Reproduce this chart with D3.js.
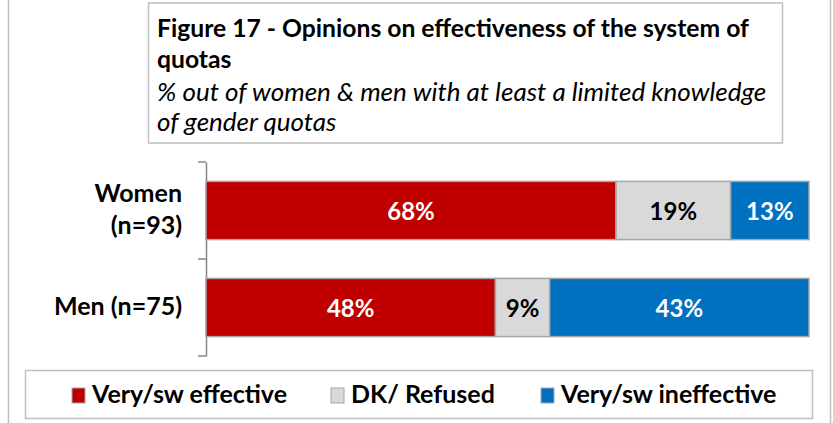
<!DOCTYPE html>
<html><head><meta charset="utf-8">
<script src="https://cdn.jsdelivr.net/npm/d3@7"></script>
<style>body{margin:0;background:#fff}svg{display:block}</style>
</head><body>
<svg id="c" width="833" height="423"></svg>
<script>
const categories = ["Women (n=93)", "Men (n=75)"];
const categoryLines = [["Women", "(n=93)"], ["Men (n=75)"]];
const seriesNames = ["Very/sw effective", "DK/ Refused", "Very/sw ineffective"];
const effective = [68, 48];
const dkRefused = [19, 9];
const ineffective = [13, 43];
const titleLines = ["Figure 17 - Opinions on effectiveness of the system of", "quotas"];
const subtitleLines = ["% out of women & men with at least a limited knowledge", "of gender quotas"];

const colors = ["#C00000", "#D9D9D9", "#0070C0"];
const labelColors = ["#fff", "#000", "#fff"];
const FONT = "Lato, 'Open Sans', sans-serif";

const svg = d3.select("#c");
// outer frame
svg.append("line").attr("x1", 8.5).attr("x2", 8.5).attr("y1", 0).attr("y2", 423).attr("stroke", "#bfbfbf").attr("stroke-width", 1.5);
svg.append("line").attr("x1", 830.5).attr("x2", 830.5).attr("y1", 0).attr("y2", 423).attr("stroke", "#bfbfbf").attr("stroke-width", 1.5);

// title box
svg.append("rect").attr("x", 148.5).attr("y", 3).attr("width", 634).attr("height", 140)
  .attr("fill", "#fff").attr("stroke", "#bfbfbf").attr("stroke-width", 1.5);
const tt = svg.append("g").attr("font-family", FONT).attr("fill", "#000");
titleLines.forEach((t, i) => tt.append("text").attr("x", 157).attr("y", 37 + i * 31)
  .attr("font-weight", "bold").attr("font-size", 24.7).text(t));
subtitleLines.forEach((t, i) => tt.append("text").attr("x", 157).attr("y", 101 + i * 30)
  .attr("font-style", "italic").attr("font-size", 26).text(t));

// data rows
const rows = categories.map((c, i) => ({ cat: c, lines: categoryLines[i], vals: [effective[i], dkRefused[i], ineffective[i]] }));
const x = d3.scaleLinear().domain([0, 100]).range([206, 809]);
const y = d3.scaleBand().domain(categories).range([162, 356]).paddingInner(0.4).paddingOuter(0.2);

// axis
const yAxis = d3.axisLeft(y).tickSize(0).tickFormat("");
const ag = svg.append("g").attr("transform", "translate(206,0)").call(yAxis);
ag.select(".domain").attr("stroke", "#868686").attr("stroke-width", 1.5);
// category boundary ticks
const bounds = [162, (y(categories[0]) + y.bandwidth() + y(categories[1])) / 2, 356];
svg.selectAll(".bt").data(bounds).enter().append("line")
  .attr("x1", 198).attr("x2", 206).attr("y1", d => d).attr("y2", d => d)
  .attr("stroke", "#868686").attr("stroke-width", 1.5);

rows.forEach(r => {
  let cum = 0;
  const g = svg.append("g");
  r.vals.forEach((v, j) => {
    const x0 = x(cum), x1 = x(cum + v);
    g.append("rect").attr("x", x0).attr("y", y(r.cat)).attr("width", x1 - x0).attr("height", y.bandwidth())
      .attr("fill", colors[j]).attr("stroke", "#a6a6a6").attr("stroke-width", 1.5);
    g.append("text").attr("x", (x0 + x1) / 2).attr("y", y(r.cat) + y.bandwidth() / 2 + 9)
      .attr("text-anchor", "middle").attr("font-family", FONT).attr("font-weight", "bold").attr("font-size", 24)
      .attr("fill", labelColors[j]).text(v + "%");
    cum += v;
  });
  const cy = y(r.cat) + y.bandwidth() / 2;
  const n = r.lines.length;
  r.lines.forEach((t, k) => {
    svg.append("text").attr("x", 182).attr("y", cy + 7 + (k - (n - 1) / 2) * 32)
      .attr("text-anchor", "end").attr("font-family", FONT).attr("font-weight", "bold").attr("font-size", 25)
      .text(t);
  });
});

// legend
svg.append("rect").attr("x", 25.5).attr("y", 370.5).attr("width", 787).attr("height", 48)
  .attr("fill", "#fff").attr("stroke", "#bfbfbf").attr("stroke-width", 1.5);
const legX = [72, 331, 541];
seriesNames.forEach((s, j) => {
  svg.append("rect").attr("x", legX[j]).attr("y", 388).attr("width", 13).attr("height", 15)
    .attr("fill", colors[j]).attr("stroke", "#a6a6a6");
  svg.append("text").attr("x", legX[j] + 20).attr("y", 403).attr("font-family", FONT)
    .attr("font-weight", "bold").attr("font-size", 25).text(s);
});
</script>
</body></html>
